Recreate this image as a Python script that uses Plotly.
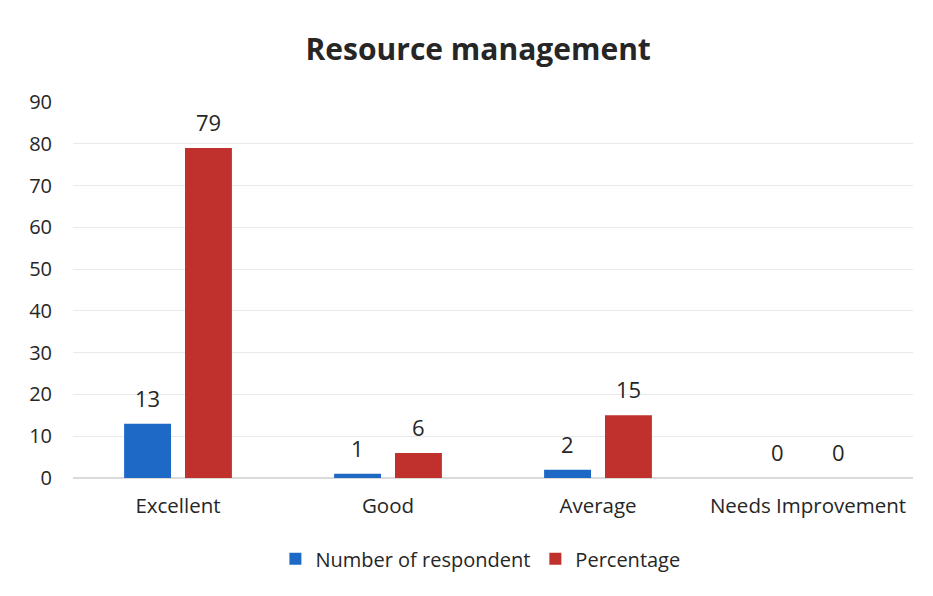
import plotly.graph_objects as go

categories = ["Excellent", "Good", "Average", "Needs Improvement"]
respondents = [13, 1, 2, 0]
percentage = [79, 6, 15, 0]
y_ticks = [0, 10, 20, 30, 40, 50, 60, 70, 80, 90]

BLUE = "#1F69C6"
RED = "#C0302D"
FONT = "'Open Sans', sans-serif"
TXT = "#262626"

fig = go.Figure()
fig.add_trace(go.Bar(
    x=categories, y=respondents, name="Number of respondent",
    marker=dict(color=BLUE, line=dict(width=0)),
))
fig.add_trace(go.Bar(
    x=categories, y=percentage, name="Percentage",
    marker=dict(color=RED, line=dict(width=0)),
))

# value labels above each bar
for series, shift in ((respondents, -30.5), (percentage, 30.5)):
    for cat, val in zip(categories, series):
        fig.add_annotation(x=cat, y=val, text=str(val), showarrow=False,
                           xshift=shift, yshift=9, yanchor="bottom",
                           font=dict(size=22, color=TXT, family=FONT))

fig.update_layout(
    width=933, height=596,
    paper_bgcolor="white", plot_bgcolor="white",
    margin=dict(l=65, r=28, t=94, b=126),
    title=dict(text="<b>Resource management</b>", x=0.504, xanchor="center",
               y=0.93, yanchor="middle",
               font=dict(size=30, color=TXT, family=FONT)),
    barmode="group", bargap=0.42, bargroupgap=0.23,
    font=dict(family=FONT, size=18, color=TXT),
    legend=dict(orientation="h", x=0.485, xanchor="center", y=-0.215, yanchor="middle",
                font=dict(size=20, color=TXT), itemwidth=30,
                traceorder="normal"),
    xaxis=dict(showgrid=False, showline=False, ticks="",
               ticklabelstandoff=13,
               tickfont=dict(size=20.5, color=TXT)),
    yaxis=dict(range=[0, 90], tickvals=y_ticks, showgrid=True,
               gridcolor="#E9E9E9", gridwidth=1, zeroline=True,
               zerolinecolor="#DADADA", showline=False, ticks="",
               ticklabelstandoff=20,
               tickfont=dict(size=20, color=TXT)),
    showlegend=True,
)

fig.write_html("out.html")
